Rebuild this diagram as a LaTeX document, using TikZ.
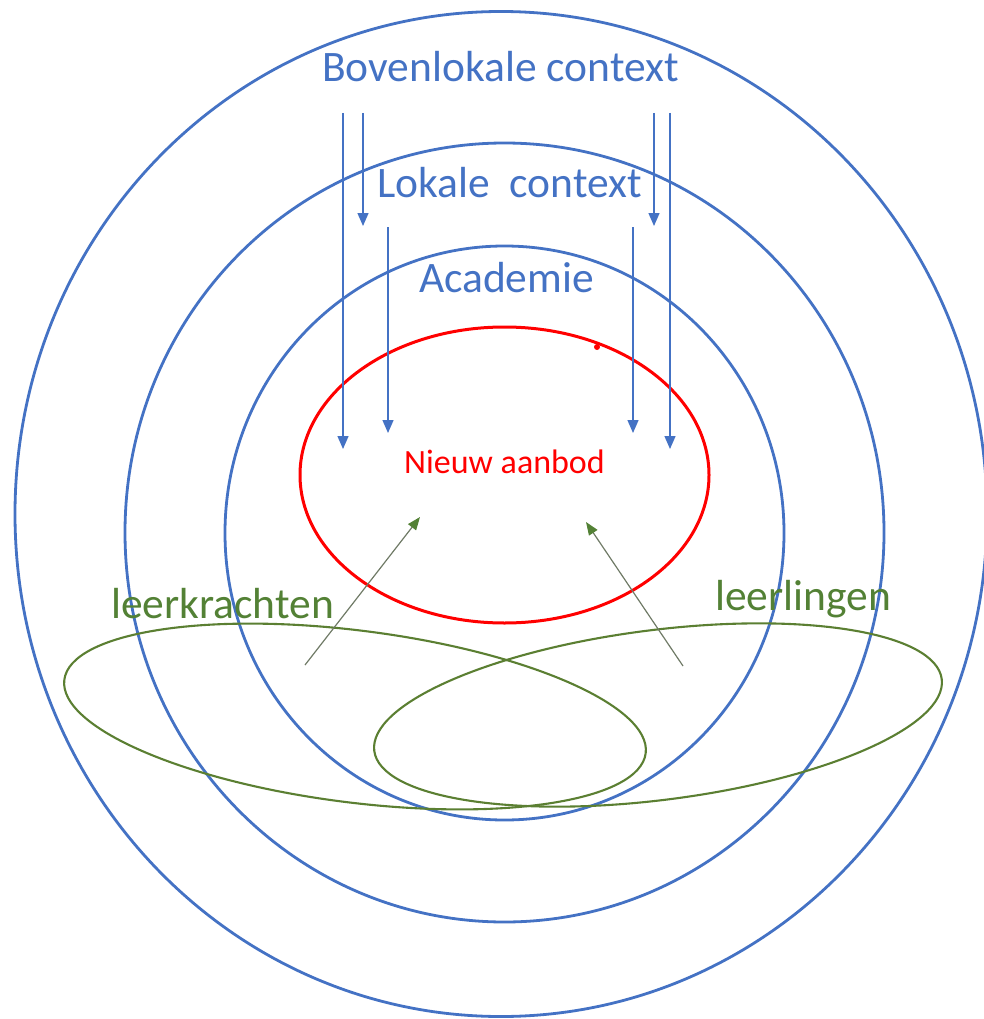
\documentclass[tikz,border=0pt]{standalone}
\usepackage{fontspec}
\setmainfont{Carlito}
\usetikzlibrary{shapes.geometric,arrows.meta}
\definecolor{ringblue}{HTML}{4472C4}
\definecolor{coreRed}{HTML}{FF0000}
\definecolor{groupgreen}{HTML}{5B7F32}
\definecolor{labelgreen}{HTML}{538135}
\definecolor{pointer}{HTML}{6F7A66}
\tikzset{
  ring/.style={draw=ringblue, line width=2.8pt, ellipse, inner sep=0pt},
  core/.style={draw=coreRed, line width=3pt, ellipse, inner sep=0pt},
  group/.style={draw=groupgreen, line width=2.1pt, ellipse, inner sep=0pt},
  ringlabel/.style={text=ringblue, anchor=base, inner sep=0pt},
  grouplabel/.style={text=labelgreen, anchor=base, inner sep=0pt},
  influence/.style={draw=ringblue, line width=1.4pt, -{Triangle[width=11pt,length=13pt]}},
  push/.style={draw=pointer, line width=1.2pt, -{Triangle[width=10pt,length=13pt,color=labelgreen]}}
}
\begin{document}
\begin{tikzpicture}[x=1pt,y=-1pt]
\path[use as bounding box] (0,0) rectangle (984,1019);

% nested contexts
\node[ring, minimum width=972pt, minimum height=1005pt] (outer) at (501,514) {};
\node[ring, minimum width=759pt, minimum height=779pt] (local) at (504.5,532.5) {};
\node[ring, minimum width=559pt, minimum height=574pt] (acad) at (504.5,533) {};
\node[core, minimum width=409pt, minimum height=296pt] (offer) at (504.5,475) {};
\fill[coreRed] (597,347) circle (3pt);

% groups
\node[group, minimum width=586pt, minimum height=172pt, rotate=-7.2] (teachers) at (355,716.5) {};
\node[group, minimum width=572pt, minimum height=170pt, rotate=7.2] (pupils) at (658,715) {};

% labels
\node[ringlabel, font=\fontsize{43.5}{52}\selectfont] (lboven) at (500.5,82) {Bovenlokale context};
\node[ringlabel, font=\fontsize{43.5}{52}\selectfont] (llokaal) at (509.5,197) {Lokale\ \ context};
\node[ringlabel, font=\fontsize{43.5}{52}\selectfont] (lacad) at (506.5,292) {Academie};
\node[text=coreRed, anchor=base, inner sep=0pt, font=\fontsize{34}{41}\selectfont] (loffer) at (504.5,473) {Nieuw aanbod};
\node[grouplabel, font=\fontsize{43.5}{52}\selectfont] (lteach) at (222.5,618) {leerkrachten};
\node[grouplabel, font=\fontsize{43.5}{52}\selectfont] (lpupil) at (803,610) {leerlingen};

% influence of the outer contexts
\coordinate (a1s) at (343,113);  \coordinate (a1e) at (343,449);
\coordinate (a2s) at (363,113);  \coordinate (a2e) at (363,226);
\coordinate (a3s) at (388,227);  \coordinate (a3e) at (388,433);
\coordinate (a4s) at (633,227);  \coordinate (a4e) at (633,433);
\coordinate (a5s) at (654,113);  \coordinate (a5e) at (654,226);
\coordinate (a6s) at (670,113);  \coordinate (a6e) at (670,449);
\draw[influence] (a1s) -- (a1e);
\draw[influence] (a2s) -- (a2e);
\draw[influence] (a3s) -- (a3e);
\draw[influence] (a4s) -- (a4e);
\draw[influence] (a5s) -- (a5e);
\draw[influence] (a6s) -- (a6e);

% input from teachers and pupils
\coordinate (t1) at (305,665);  \coordinate (t2) at (420,517);
\coordinate (p1) at (683,666);  \coordinate (p2) at (586,522);
\draw[push] (t1) -- (t2);
\draw[push] (p1) -- (p2);
\end{tikzpicture}
\end{document}
